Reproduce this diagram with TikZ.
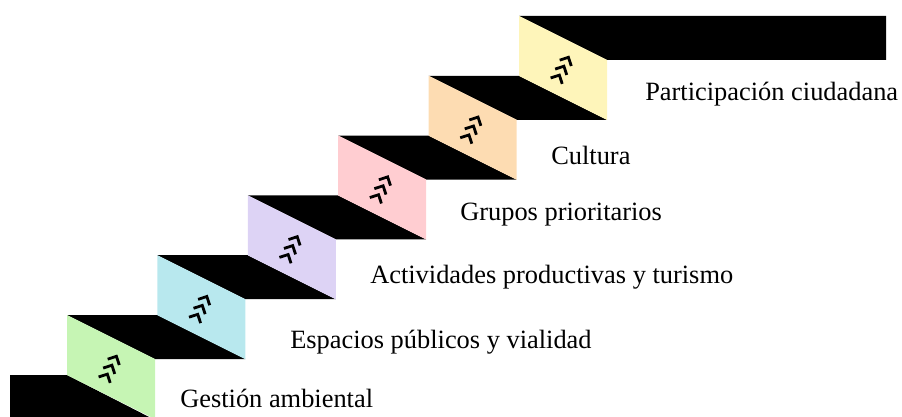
\documentclass[tikz,border=0pt]{standalone}
\usepackage{fontspec}
\setmainfont{Liberation Serif}

\definecolor{stepgreen}{RGB}{198,245,180}
\definecolor{stepblue}{RGB}{184,232,238}
\definecolor{steppurple}{RGB}{221,211,245}
\definecolor{steppink}{RGB}{255,205,209}
\definecolor{steporange}{RGB}{253,220,178}
\definecolor{stepyellow}{RGB}{254,245,186}

\begin{document}
\begin{tikzpicture}[x=0.75pt,y=-0.75pt,
  tread/.style={fill=black},
  riser/.style={fill=#1},
  chevron/.style={line width=2.1pt,line join=miter},
  steplabel/.style={anchor=base west,inner sep=0pt,font=\fontsize{19.8}{24}\selectfont}]

% frame of the picture
\clip (0,0) rectangle (902,417);

% Bottom tread (cut by the frame)
\fill[tread] (10,375) -- (67,375) -- (153,419) -- (10,419) -- cycle;

% Top tread, running out to the right
\fill[tread] (519,16) -- (886,16) -- (886,60) -- (607,60) -- cycle;

% Treads between two risers
\foreach \i in {1,...,5} {
  \pgfmathsetmacro{\sx}{67+90.4*\i}
  \pgfmathsetmacro{\sy}{315-59.8*\i}
  \fill[tread] (\sx-90.4,\sy+59.8) -- (\sx,\sy+59.8) -- (\sx+88,\sy+103.8) -- (\sx-2.4,\sy+103.8) -- cycle;
}

% Coloured risers with the chevron mark
\foreach \clr [count=\i from 0] in {stepgreen,stepblue,steppurple,steppink,steporange,stepyellow} {
  \pgfmathsetmacro{\sx}{67+90.4*\i}
  \pgfmathsetmacro{\sy}{315-59.8*\i}
  \fill[riser=\clr] (\sx,\sy) -- (\sx+88,\sy+44) -- (\sx+88,\sy+104) -- (\sx,\sy+60) -- cycle;
  \begin{scope}[shift={(\sx+44,\sy+52)},rotate=-27]
    \foreach \o in {-10,0,10}
      \draw[chevron] (-6.5,\o+4.5) -- (0,\o-2) -- (6.5,\o+4.5);
  \end{scope}
}

% Labels of the steps
\node[steplabel] (gestion) at (180,407) {Gestión ambiental};
\node[steplabel] (espacios) at (290,348) {Espacios públicos y vialidad};
\node[steplabel] (actividades) at (370,283) {Actividades productivas y turismo};
\node[steplabel] (grupos) at (460,220) {Grupos prioritarios};
\node[steplabel] (cultura) at (551,165) {Cultura};
\node[steplabel] (participacion) at (645,101) {Participación ciudadana};

\end{tikzpicture}
\end{document}
